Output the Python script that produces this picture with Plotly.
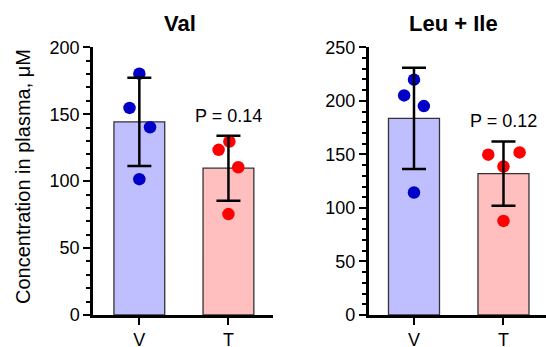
import plotly.graph_objects as go

W, H = 546, 347

groups = ["V", "T"]
panel_titles = ["Val", "Leu + Ile"]
p_labels = ["P = 0.14", "P = 0.12"]
p_label_y = [149, 181]

# bar heights (means) and SD
val_means = [144.3, 109.7]
val_sd = [33.0, 24.3]
leu_means = [183.6, 132.0]
leu_sd = [47.2, 30.0]

# individual points
val_V = [180.3, 154.7, 140.3, 101.5]
val_T = [123.4, 129.6, 110.4, 75.4]
leu_V = [219.8, 205.1, 195.1, 114.4]
leu_T = [149.7, 151.8, 138.7, 87.9]

# horizontal jitter of points (category units)
val_V_jit = [0.0, -0.11, 0.12, 0.0]
val_T_jit = [-0.11, 0.01, 0.11, 0.0]
leu_V_jit = [0.0, -0.11, 0.11, 0.0]
leu_T_jit = [-0.17, 0.18, 0.0, 0.0]

y_max = [200, 250]

bar_fill = ["#BFBFFF", "#FFBFBF"]
dot_col = ["#0000C8", "#FF0000"]
FONT = "Arial, Liberation Sans, sans-serif"

fig = go.Figure()

panels = [
    (val_means, val_sd, [val_V, val_T], [val_V_jit, val_T_jit]),
    (leu_means, leu_sd, [leu_V, leu_T], [leu_V_jit, leu_T_jit]),
]

for i, (means, sds, pts, jits) in enumerate(panels):
    xa = "x" if i == 0 else "x2"
    ya = "y" if i == 0 else "y2"
    fig.add_trace(go.Bar(
        x=[0, 1], y=means, width=0.57,
        marker=dict(color=bar_fill, line=dict(color="#333333", width=1.3)),
        xaxis=xa, yaxis=ya, showlegend=False, hoverinfo="skip"))
    for g in range(2):
        fig.add_trace(go.Scatter(
            x=[g + j for j in jits[g]], y=pts[g], mode="markers",
            marker=dict(size=12.5, color=dot_col[g], line=dict(width=0)),
            xaxis=xa, yaxis=ya, showlegend=False))
    fig.add_trace(go.Scatter(
        x=[0, 1], y=means, mode="markers",
        marker=dict(size=1, color="rgba(0,0,0,0)"),
        error_y=dict(type="data", array=sds, visible=True, color="black",
                     thickness=2.5, width=12),
        xaxis=xa, yaxis=ya, showlegend=False, hoverinfo="skip"))

ybot = (H - 315) / H
ytop = (H - 47.3) / H

common_x = dict(
    tickmode="array", tickvals=[0, 1], ticktext=groups,
    showline=True, linecolor="black", linewidth=2.5,
    ticks="outside", ticklen=7, tickwidth=2, tickcolor="black",
    tickfont=dict(family=FONT, size=18, color="black"),
    showgrid=False, zeroline=False, fixedrange=True, automargin=False)

common_y = dict(
    showline=True, linecolor="black", linewidth=2.5,
    ticks="outside", ticklen=7, tickwidth=2, tickcolor="black",
    dtick=50, tickfont=dict(family=FONT, size=18, color="black"),
    minor=dict(dtick=10, ticks="outside", ticklen=4, tickwidth=1.5, tickcolor="black"),
    showgrid=False, zeroline=False, domain=[ybot, ytop], fixedrange=True,
    automargin=False)

fig.update_layout(
    width=W, height=H,
    margin=dict(l=0, r=0, t=0, b=0, pad=0),
    paper_bgcolor="white", plot_bgcolor="white",
    barmode="overlay",
    xaxis=dict(common_x, domain=[93 / W, 273 / W], range=[-0.52, 1.5], anchor="y"),
    yaxis=dict(common_y, range=[0, y_max[0]], anchor="x"),
    xaxis2=dict(common_x, domain=[368.7 / W, 1.0], range=[-0.506, 1.475], anchor="y2"),
    yaxis2=dict(common_y, range=[0, y_max[1]], anchor="x2"),
)

annotations = [
    dict(text="<b>" + panel_titles[0] + "</b>", x=180 / W, y=(H - 23) / H,
         xref="paper", yref="paper", showarrow=False,
         xanchor="center", yanchor="middle",
         font=dict(family=FONT, size=22, color="black")),
    dict(text="<b>" + panel_titles[1] + "</b>", x=453 / W, y=(H - 23) / H,
         xref="paper", yref="paper", showarrow=False,
         xanchor="center", yanchor="middle",
         font=dict(family=FONT, size=22, color="black")),
    dict(text="Concentration in plasma, μM", x=23 / W, y=(H - 177) / H,
         xref="paper", yref="paper", showarrow=False, textangle=-90,
         xanchor="center", yanchor="middle",
         font=dict(family=FONT, size=20, color="black")),
    dict(text=p_labels[0], x=1, y=p_label_y[0], xref="x", yref="y",
         showarrow=False, xanchor="center", yanchor="middle",
         font=dict(family=FONT, size=18, color="black")),
    dict(text=p_labels[1], x=1, y=p_label_y[1], xref="x2", yref="y2",
         showarrow=False, xanchor="center", yanchor="middle",
         font=dict(family=FONT, size=18, color="black")),
]
fig.update_layout(annotations=annotations)

fig.write_html("out.html", config={"displayModeBar": False},
               post_script="document.body.style.margin='0';")
